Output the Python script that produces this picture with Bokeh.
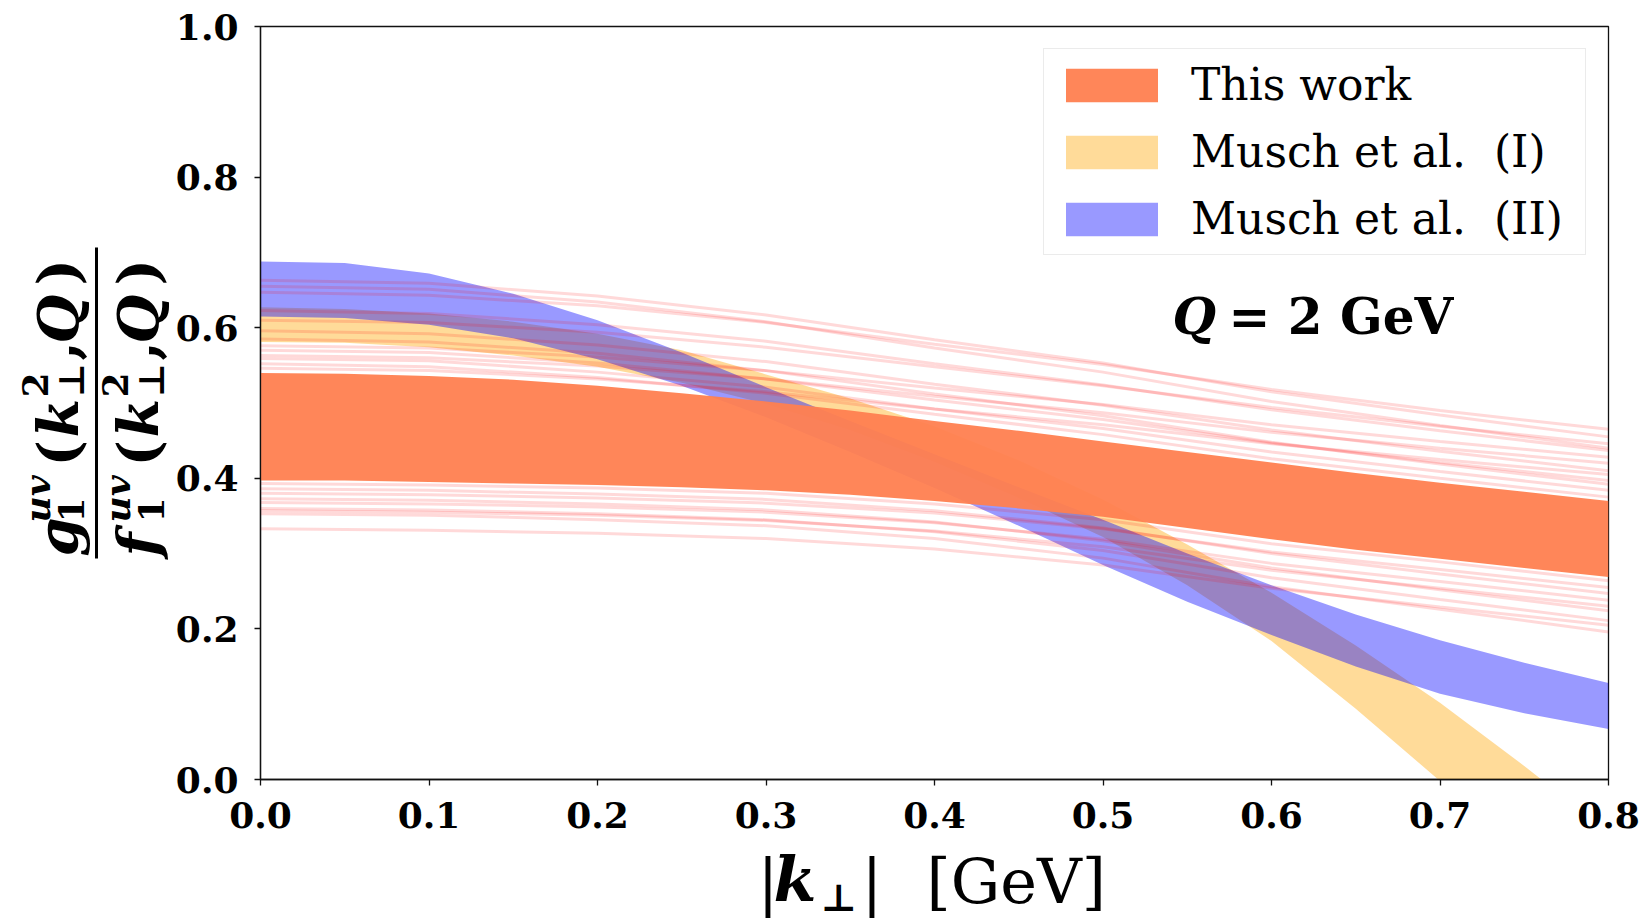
from bokeh.plotting import figure
from bokeh.layouts import row, column
from bokeh.models import Label, Legend, LegendItem, FixedTicker, Range1d
from bokeh.core.properties import value
from bokeh.embed import file_html
from bokeh.resources import INLINE

# ---------------- data ----------------
k_grid = [0.0, 0.05, 0.1, 0.15, 0.2, 0.25, 0.3, 0.35, 0.4, 0.45,
          0.5, 0.55, 0.6, 0.65, 0.7, 0.75, 0.8]

this_work_upper = [0.540, 0.539, 0.536, 0.531, 0.523, 0.513, 0.502, 0.490, 0.476,
                   0.463, 0.449, 0.435, 0.421, 0.407, 0.394, 0.382, 0.370]
this_work_lower = [0.397, 0.397, 0.395, 0.393, 0.391, 0.388, 0.384, 0.378, 0.370,
                   0.360, 0.349, 0.334, 0.319, 0.305, 0.293, 0.281, 0.269]

musch1_upper = [0.627, 0.625, 0.619, 0.608, 0.592, 0.570, 0.538, 0.506, 0.469,
                0.424, 0.372, 0.312, 0.248, 0.178, 0.102, 0.018, -0.070]
musch1_lower = [0.581, 0.580, 0.574, 0.563, 0.548, 0.527, 0.499, 0.464, 0.422,
                0.374, 0.322, 0.258, 0.184, 0.094, -0.002, -0.100, -0.200]

musch2_upper = [0.688, 0.686, 0.672, 0.645, 0.610, 0.567, 0.521, 0.476, 0.432,
                0.388, 0.345, 0.300, 0.258, 0.219, 0.185, 0.155, 0.128]
musch2_lower = [0.615, 0.613, 0.604, 0.586, 0.558, 0.523, 0.481, 0.435, 0.387,
                0.337, 0.285, 0.236, 0.192, 0.150, 0.114, 0.088, 0.067]

replica_k = [0.0, 0.1, 0.2, 0.3, 0.4, 0.5, 0.6, 0.7, 0.8]
replicas_above = [
    [0.663, 0.659, 0.642, 0.617, 0.584, 0.553, 0.515, 0.484, 0.455],
    [0.655, 0.651, 0.634, 0.608, 0.573, 0.541, 0.502, 0.470, 0.440],
    [0.647, 0.643, 0.629, 0.607, 0.578, 0.551, 0.518, 0.490, 0.465],
    [0.623, 0.619, 0.604, 0.582, 0.552, 0.524, 0.491, 0.463, 0.437],
    [0.610, 0.607, 0.594, 0.574, 0.548, 0.523, 0.494, 0.469, 0.446],
    [0.596, 0.592, 0.577, 0.555, 0.525, 0.497, 0.464, 0.436, 0.410],
    [0.585, 0.581, 0.566, 0.543, 0.512, 0.483, 0.448, 0.419, 0.392],
    [0.576, 0.573, 0.561, 0.543, 0.520, 0.498, 0.471, 0.449, 0.428],
    [0.570, 0.567, 0.553, 0.532, 0.504, 0.478, 0.447, 0.421, 0.397],
    [0.563, 0.560, 0.549, 0.532, 0.509, 0.487, 0.461, 0.440, 0.420],
    [0.559, 0.556, 0.541, 0.521, 0.492, 0.466, 0.435, 0.409, 0.384],
    [0.552, 0.548, 0.534, 0.513, 0.485, 0.458, 0.426, 0.400, 0.375],
    [0.546, 0.543, 0.532, 0.515, 0.492, 0.471, 0.446, 0.425, 0.405],
]
replicas_below = [
    [0.393, 0.391, 0.387, 0.380, 0.366, 0.345, 0.313, 0.289, 0.264],
    [0.386, 0.384, 0.379, 0.372, 0.357, 0.334, 0.300, 0.273, 0.247],
    [0.380, 0.378, 0.374, 0.367, 0.354, 0.333, 0.302, 0.279, 0.255],
    [0.373, 0.371, 0.366, 0.358, 0.342, 0.317, 0.281, 0.252, 0.224],
    [0.368, 0.366, 0.362, 0.355, 0.341, 0.319, 0.287, 0.263, 0.238],
    [0.360, 0.358, 0.353, 0.345, 0.329, 0.304, 0.268, 0.239, 0.211],
    [0.357, 0.355, 0.351, 0.344, 0.330, 0.309, 0.278, 0.254, 0.230],
    [0.353, 0.351, 0.345, 0.337, 0.320, 0.294, 0.256, 0.226, 0.196],
    [0.333, 0.331, 0.327, 0.320, 0.306, 0.285, 0.254, 0.229, 0.205],
]

x_ticks = [0.0, 0.1, 0.2, 0.3, 0.4, 0.5, 0.6, 0.7, 0.8]
x_tick_labels = ["0.0", "0.1", "0.2", "0.3", "0.4", "0.5", "0.6", "0.7", "0.8"]
y_ticks = [0.0, 0.2, 0.4, 0.6, 0.8, 1.0]
y_tick_labels = ["0.0", "0.2", "0.4", "0.6", "0.8", "1.0"]

legend_labels = ["This work", "Musch et al.  (I)", "Musch et al.  (II)"]
scale_note = "= 2 GeV"

# ---------------- layout constants ----------------
SERIF = "DejaVu Serif"
W, H = 1646, 919
YLAB_W = 172                 # left strip carrying the y-axis label
TOP_H = 844                  # height of the main figure row
FRAME_L = 260                # frame left edge in page pixels
FRAME_T = 26                 # frame top edge in page pixels
FRAME_B = 779                # frame bottom edge in page pixels
MID = 0.355                  # text anchor sits this many em above the baseline

# ---------------- main figure ----------------
p = figure(width=W - YLAB_W, height=TOP_H, output_backend="svg", toolbar_location=None,
           x_range=Range1d(0, 0.8), y_range=Range1d(0, 1.0),
           min_border_left=FRAME_L - YLAB_W, min_border_right=38,
           min_border_top=FRAME_T, min_border_bottom=TOP_H - FRAME_B)
p.xgrid.visible = False
p.ygrid.visible = False
p.background_fill_color = "white"
p.border_fill_color = "white"
p.outline_line_color = "#111111"
p.outline_line_width = 1.3

r_musch1 = p.varea(x=k_grid, y1=musch1_lower, y2=musch1_upper,
                   fill_color="orange", fill_alpha=0.4)
r_musch2 = p.varea(x=k_grid, y1=musch2_lower, y2=musch2_upper,
                   fill_color="blue", fill_alpha=0.4)
r_this = p.varea(x=k_grid, y1=this_work_lower, y2=this_work_upper,
                 fill_color="coral", fill_alpha=0.95)

all_reps = replicas_above + replicas_below
p.multi_line(xs=[replica_k] * len(all_reps), ys=all_reps,
             line_color="red", line_alpha=0.15, line_width=3)

for ax in (p.xaxis[0], p.yaxis[0]):
    ax.axis_line_color = "#111111"
    ax.axis_line_width = 1.3
    ax.major_tick_line_color = "#111111"
    ax.major_tick_line_width = 1.3
    ax.major_tick_out = 6
    ax.major_tick_in = 0
    ax.minor_tick_line_color = None
    ax.major_label_text_font = SERIF
    ax.major_label_text_font_style = "bold"
    ax.major_label_text_font_size = "36px"
    ax.major_label_text_color = "black"

p.xaxis.ticker = FixedTicker(ticks=x_ticks)
p.yaxis.ticker = FixedTicker(ticks=y_ticks)
p.xaxis.major_label_overrides = {t: s for t, s in zip(x_ticks, x_tick_labels)}
p.yaxis.major_label_overrides = {t: s for t, s in zip(y_ticks, y_tick_labels)}
p.xaxis.major_label_standoff = 16
p.yaxis.major_label_standoff = 16

legend = Legend(items=[LegendItem(label=legend_labels[0], renderers=[r_this]),
                       LegendItem(label=legend_labels[1], renderers=[r_musch1]),
                       LegendItem(label=legend_labels[2], renderers=[r_musch2])],
                location="top_right", margin=22, padding=10, spacing=16,
                glyph_width=115, glyph_height=42, label_standoff=22, label_width=384,
                label_text_font=SERIF, label_text_font_size="44px",
                label_text_color="black",
                border_line_color="#d8d8d8", border_line_width=1.5,
                background_fill_color="white", background_fill_alpha=0.85)
p.add_layout(legend)

def note(text, x, y, size, style):
    p.add_layout(Label(x=x, y=y + MID * size, x_units="screen", y_units="screen",
                       text=text, text_font=SERIF, text_font_size=f"{size}px",
                       text_font_style=style, text_color="black",
                       text_align="left", text_baseline="alphabetic"))

note("Q", 912, 445, 50, "bold italic")
note(scale_note, 968, 445, 50, "bold")

# ---------------- y-axis label strip (frame aligned with the main frame) ----------------
yl = figure(width=YLAB_W, height=TOP_H, output_backend="svg", toolbar_location=None,
            x_range=Range1d(0, YLAB_W), y_range=Range1d(TOP_H - FRAME_B, TOP_H - FRAME_T),
            x_axis_type=None, y_axis_type=None,
            min_border_left=0, min_border_right=0,
            min_border_top=FRAME_T, min_border_bottom=TOP_H - FRAME_B)
yl.outline_line_color = None
yl.xgrid.visible = False
yl.ygrid.visible = False
yl.background_fill_color = "white"
yl.border_fill_color = "white"

ANG = 1.5707963

def ytxt(text, bX, Y, size, style):
    # bX: baseline position (page px), Y: start of the text along the page (page px)
    yl.text(x=[bX - MID * size], y=[TOP_H - Y], text=[text], angle=ANG,
            text_font=value(SERIF), text_font_size=value(f"{size}px"),
            text_font_style=style, text_color="black",
            text_align="left", text_baseline="alphabetic")

def frac_part(first, bX):
    ytxt(first, bX, 556, 56, "bold italic")
    ytxt("1", bX + 6, 522, 36, "bold")
    ytxt("uv", bX - 28, 522, 36, "bold italic")
    ytxt("(", bX, 466, 56, "bold")
    ytxt("k", bX, 437, 56, "bold italic")
    ytxt("2", bX - 30, 397, 36, "bold")
    ytxt("\u22a5", bX + 6, 397, 36, "bold")
    ytxt(",", bX, 360, 56, "bold")
    ytxt("Q", bX, 343, 56, "bold italic")
    ytxt(")", bX, 285, 56, "bold")

frac_part("g", 77)
frac_part("f", 157)
yl.segment(x0=[96], y0=[TOP_H - 558], x1=[96], y1=[TOP_H - 247],
           line_color="black", line_width=3)

# ---------------- x-axis label strip ----------------
XL_H = H - TOP_H
xl = figure(width=W, height=XL_H, output_backend="svg", toolbar_location=None,
            x_range=Range1d(0, W), y_range=Range1d(0, XL_H),
            x_axis_type=None, y_axis_type=None, min_border=0)
xl.outline_line_color = None
xl.xgrid.visible = False
xl.ygrid.visible = False
xl.background_fill_color = "white"
xl.border_fill_color = "white"

def xtxt(text, X, Yb, size, style):
    xl.text(x=[X], y=[H - Yb + MID * size], text=[text],
            text_font=value(SERIF), text_font_size=value(f"{size}px"),
            text_font_style=style, text_color="black",
            text_align="left", text_baseline="alphabetic")

xtxt("|", 757, 903, 62, "normal")
xtxt("k", 773, 901, 62, "bold italic")
xtxt("\u22a5", 820, 910, 38, "bold")
xtxt("|", 861, 903, 62, "normal")
xtxt("[GeV]", 926, 903, 62, "normal")

layout = column(row(yl, p, spacing=0), xl, spacing=0)

open("out.html", "w").write(file_html(layout, INLINE))
